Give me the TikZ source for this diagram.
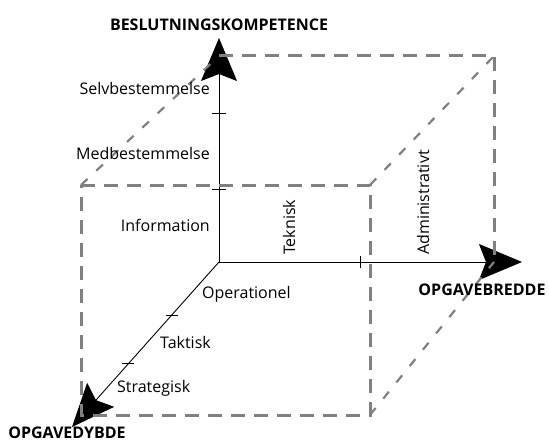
\documentclass[tikz,border=0pt]{standalone}
\usepackage{fontspec}
\setmainfont{Open Sans}
\usetikzlibrary{arrows.meta}

\definecolor{boxgray}{RGB}{128,128,128}

\begin{document}
\begin{tikzpicture}[
  x=1pt, y=-1pt,
  axis/.style={-{Stealth[length=43pt, width=36pt, inset=7pt]}, line width=0.9pt},
  tickmark/.style={-, line width=0.9pt},
  boxline/.style={draw=boxgray, line width=3pt, dash pattern=on 14pt off 9pt},
  depthline/.style={draw=boxgray, line width=2.2pt, dash pattern=on 9pt off 12pt},
  lbl/.style={font=\fontsize{16}{18}\selectfont, inner sep=1pt},
  axlbl/.style={font=\fontsize{16}{18}\selectfont\bfseries, inner sep=1pt}
  ]

\useasboundingbox (0,0) rectangle (549,444);

% axes
\coordinate (O) at (219,262);
\coordinate (vend) at (219,38);
\coordinate (hend) at (522,262);
\coordinate (dend) at (72,427);

\draw [axis] (O) -- (vend);
\draw [axis] (O) -- (hend);
\draw [axis] (O) -- (dend);

% ticks
\coordinate (tv1) at (219,113);
\coordinate (tv2) at (219,189);
\coordinate (th1) at (360,262);
\coordinate (td1) at (172,315);
\coordinate (td2) at (128,363);

\draw [tickmark] ([xshift=-7pt]tv1) -- ([xshift=7pt]tv1);
\draw [tickmark] ([xshift=-7pt]tv2) -- ([xshift=7pt]tv2);
\draw [tickmark] ([yshift=-6pt]th1) -- ([yshift=6pt]th1);
\draw [tickmark] ([xshift=-6pt]td1) -- ([xshift=6pt]td1);
\draw [tickmark] ([xshift=-6pt]td2) -- ([xshift=6pt]td2);

% box
\coordinate (f1) at (81,185);
\coordinate (f2) at (370,185);
\coordinate (f3) at (370,415);
\coordinate (f4) at (81,415);
\coordinate (b1) at (219,56);
\coordinate (b2) at (494,56);
\coordinate (b3) at (494,262);

\draw [boxline] (f1) -- (f2) -- (f3) -- (f4) -- cycle;
\draw [boxline] (b1) -- (b2) -- (b3);
\draw [depthline] (f1) -- (b1);
\draw [depthline] (f2) -- (b2);
\draw [depthline] (f3) -- (b3);

% labels
\node [lbl, anchor=east] (selv) at (211,89) {Selvbestemmelse};
\node [lbl, anchor=east] (med) at (211,153) {Medbestemmelse};
\node [lbl, anchor=east] (info) at (211,225) {Information};
\node [lbl, anchor=west] (oper) at (201,294) {Operationel};
\node [lbl, anchor=west] (takt) at (159,342) {Taktisk};
\node [lbl, anchor=west] (strat) at (116,388) {Strategisk};
\node [lbl, rotate=90, anchor=west] (tekn) at (289,256) {Teknisk};
\node [lbl, rotate=90, anchor=west] (adm) at (423,256) {Administrativt};

\node [axlbl] (beslut) at (219,25) {BESLUTNINGSKOMPETENCE};
\node [axlbl] (bredde) at (482,290) {OPGAVEBREDDE};
\node [axlbl] (dybde) at (67,433) {OPGAVEDYBDE};

\end{tikzpicture}
\end{document}
